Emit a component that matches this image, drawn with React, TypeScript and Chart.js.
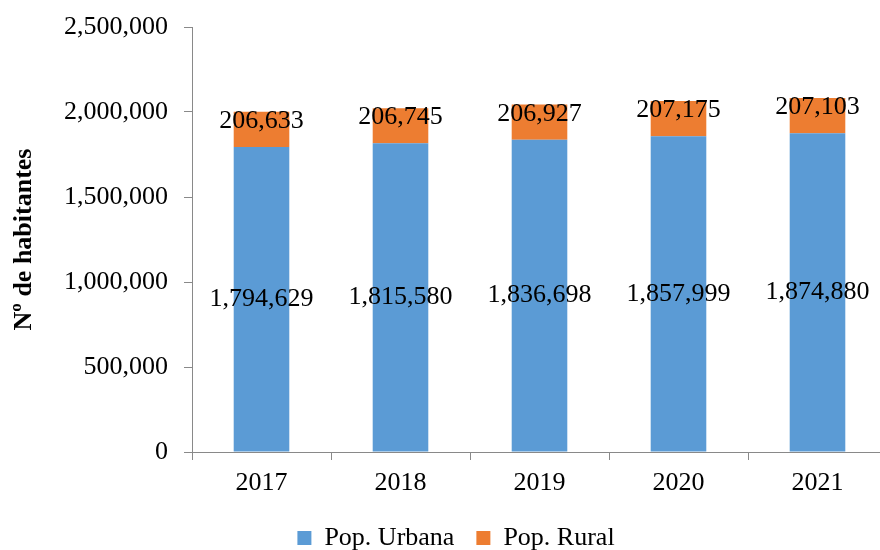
import React, { useEffect, useRef } from "react";
import { Chart, registerables } from "chart.js";

Chart.register(...registerables);

const years = ["2017", "2018", "2019", "2020", "2021"];
const urbana = [1794629, 1815580, 1836698, 1857999, 1874880];
const rural = [206633, 206745, 206927, 207175, 207103];
const seriesNames = ["Pop. Urbana", "Pop. Rural"];
const yMin = 0;
const yMax = 2500000;
const yStep = 500000;
const yTitle = "Nº de habitantes";

const FONT = "'Liberation Serif', 'Times New Roman', serif";
const AXIS = "#898989";
const fmt = (v: number) => v.toLocaleString("en-US");

const labelPlugin = {
  id: "barLabels",
  afterDatasetsDraw(chart: any) {
    const ctx = chart.ctx;
    ctx.save();
    ctx.font = `26px ${FONT}`;
    ctx.fillStyle = "#000";
    ctx.textAlign = "center";
    ctx.textBaseline = "middle";
    chart.data.datasets.forEach((ds: any, di: number) => {
      const meta = chart.getDatasetMeta(di);
      meta.data.forEach((bar: any, i: number) => {
        const { x, y, base } = bar.getProps(["x", "y", "base"], true);
        const cy = (y + base) / 2 + (di === 1 ? -8.5 : 0);
        ctx.fillText(fmt(ds.data[i]), x, cy);
      });
    });
    ctx.restore();
  },
};

export default function App() {
  const ref = useRef<HTMLCanvasElement>(null);
  useEffect(() => {
    if (!ref.current) return;
    const chart = new Chart(ref.current, {
      type: "bar",
      data: {
        labels: years,
        datasets: [
          {
            label: seriesNames[0],
            data: urbana,
            backgroundColor: "#5B9BD5",
            borderWidth: 0,
            barPercentage: 0.4,
            categoryPercentage: 1,
          },
          {
            label: seriesNames[1],
            data: rural,
            backgroundColor: "#ED7D31",
            borderWidth: 0,
            barPercentage: 0.4,
            categoryPercentage: 1,
          },
        ],
      },
      options: {
        responsive: false,
        animation: false,
        devicePixelRatio: 1,
        layout: { padding: { left: 25, right: 3, top: 27, bottom: 0 } },
        plugins: {
          tooltip: { enabled: false },
          legend: {
            position: "bottom",
            labels: {
              boxWidth: 14,
              boxHeight: 14,
              padding: 22,
              color: "#000",
              font: { family: FONT, size: 26 },
            },
          },
        },
        scales: {
          x: {
            stacked: true,
            afterFit: (s: any) => {
              s.height = 51;
              s.paddingLeft = 0;
              s.paddingRight = 0;
            },
            border: { display: true, color: AXIS, width: 1 },
            grid: {
              display: true,
              offset: true,
              drawOnChartArea: false,
              drawTicks: true,
              tickLength: 8,
              color: AXIS,
            },
            ticks: {
              color: "#000",
              padding: 8,
              font: { family: FONT, size: 26 },
              maxRotation: 0,
            },
          },
          y: {
            stacked: true,
            min: yMin,
            max: yMax,
            afterFit: (s: any) => {
              s.width = 167;
              s.paddingTop = 0;
              s.paddingBottom = 0;
            },
            border: { display: true, color: AXIS, width: 1 },
            grid: {
              display: true,
              drawOnChartArea: false,
              drawTicks: true,
              tickLength: 8,
              color: AXIS,
            },
            ticks: {
              stepSize: yStep,
              color: "#000",
              padding: 16,
              font: { family: FONT, size: 26 },
              callback: (v: any) => fmt(Number(v)),
            },
            title: {
              display: true,
              text: yTitle,
              color: "#000",
              font: { family: FONT, size: 26, weight: "bold" },
              padding: { top: -16.6, bottom: 0 },
            },
          },
        },
      },
      plugins: [labelPlugin],
    });
    return () => chart.destroy();
  }, []);

  return (
    <div
      style={{
        position: "fixed",
        left: 0,
        top: 0,
        width: 880,
        height: 550,
        overflow: "hidden",
        background: "#fff",
      }}
    >
      <canvas ref={ref} width={890} height={561} style={{ display: "block" }} />
    </div>
  );
}
